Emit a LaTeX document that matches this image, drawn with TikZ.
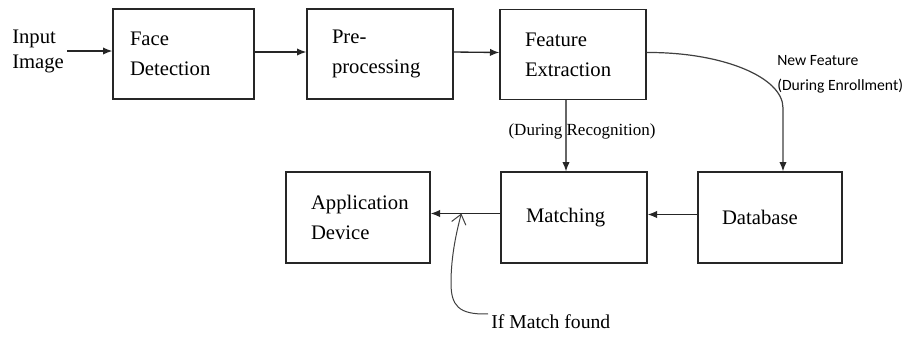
\documentclass[tikz,border=0pt]{standalone}
\usepackage{fontspec}
\setmainfont{Liberation Serif}
\newfontfamily\calib{Carlito}
\usetikzlibrary{arrows.meta,calc}
\begin{document}
\begin{tikzpicture}[x=0.75pt,y=-0.75pt,
  blk/.style={draw=black!85,line width=1pt,rectangle,inner sep=0pt,minimum height=67.5pt,align=left,font=\fontsize{15.5}{22.5}\selectfont},
  arr/.style={draw=black!85,line width=1pt,-{Latex[length=7pt,width=5.5pt]}},
  recarr/.style={draw=black!60,line width=0.8pt,-{Latex[length=7pt,width=5.5pt,color=black!85]}},
  curvearr/.style={draw=black!75,line width=0.9pt,-{Latex[length=7pt,width=5.5pt,color=black!85]}},
  ifarr/.style={draw=black!75,line width=0.75pt,-{Straight Barb[length=7pt,width=11pt]}},
  lbl/.style={inner sep=0pt}
]
\useasboundingbox (0,0) rectangle (904,337);
\fill[white] (0,0) rectangle (904,337);

\node[blk,minimum width=105.75pt,text width=80.25pt] (fd) at (183.5,54) {Face\\Detection};
\node[blk,minimum width=109.5pt,text width=72pt] (pp) at (380,54) {Pre-\\processing};
\node[blk,minimum width=109.5pt,text width=72pt] (fe) at (573,54.5) {Feature\\Extraction};
\node[blk,minimum width=108pt,minimum height=68.25pt,text width=70.5pt] (ad) at (358,217.5) {Application\\Device};
\node[blk,minimum width=109.5pt,minimum height=68.25pt,text width=72pt] (ma) at (574,217.5) {Matching};
\node[blk,minimum width=108pt,minimum height=68.25pt,text width=72pt] (db) at (770,217.5) {Database};

\node[font=\fontsize{15.5}{18.75}\selectfont,align=left,anchor=west,inner xsep=2.25pt,inner ysep=0pt] (in) at (9,51) {Input\\Image};

\draw[arr] (in.east) -- (fd.west |- in.east);
\draw[arr] ($(fd.east)+(0,-2)$) -- ($(pp.west)+(0,-2)$);
\draw[arr] ($(pp.east)+(0,-2)$) -- ($(fe.west)+(0,-2)$);

\coordinate (dbin) at ($(db.north)+(13,0)$);
\draw[curvearr] ($(fe.east)+(0,-2)$) .. controls (722,52) and (783,77) .. (783,108) -- (dbin);
\node[lbl,font=\calib\fontsize{11.75}{18.75}\selectfont,align=left,anchor=north west] (nf) at (777,55) {New Feature\\(During Enrollment)};

\coordinate (rtop) at ($(fe.south)+(-7,0)$);
\draw[recarr] (rtop) -- (rtop |- ma.north);
\node[lbl,font=\fontsize{12.75}{15}\selectfont] (rl) at (582,131) {(During Recognition)};

\draw[arr] ($(db.west)+(0,-3)$) -- ($(ma.east)+(0,-3)$);
\draw[arr] ($(ma.west)+(0,-4)$) -- ($(ad.east)+(0,-4)$);
\coordinate (mf) at ($(ma.west)+(-39,-4)$);

\node[font=\fontsize{14.75}{18}\selectfont,anchor=base west,inner xsep=2.25pt,inner ysep=0pt] (ifm) at (488,328) {If Match found};
\draw[ifarr] (ifm.north west) .. controls (458,315) and (451,305) .. (451,283) .. controls (451,255) and (457,230) .. (mf);
\end{tikzpicture}
\end{document}
